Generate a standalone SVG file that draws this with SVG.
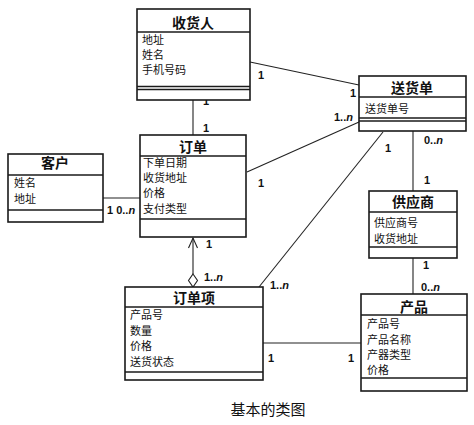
<svg xmlns="http://www.w3.org/2000/svg" width="474" height="425" viewBox="0 0 474 425">
<style>
.box{fill:#fff;stroke:#1a1a1a;stroke-width:1.6}
.div{stroke:#1a1a1a;stroke-width:1.4}
.ttl{font-family:"Noto Sans CJK SC","Noto Sans",sans-serif;font-weight:bold;font-size:14px;fill:#111;text-anchor:middle}
.att{font-family:"Noto Sans CJK SC","Noto Sans",sans-serif;font-size:11px;fill:#111}
.lbl{font-family:"Liberation Sans",Arial,sans-serif;font-weight:bold;font-size:11px;fill:#111}
.con{stroke:#222;stroke-width:1.1;fill:none}
.cap{font-family:"Noto Sans CJK SC",sans-serif;font-size:15px;fill:#111;text-anchor:middle}
</style>
<rect width="474" height="425" fill="#fff"/>
<g id="connectors">
<line class="con" x1="193" y1="100" x2="193" y2="135"/>
<line class="con" x1="250" y1="62" x2="359" y2="85"/>
<line class="con" x1="247" y1="172" x2="359" y2="122"/>
<line class="con" x1="383" y1="132" x2="259" y2="287"/>
<line class="con" x1="413" y1="131" x2="413" y2="191"/>
<line class="con" x1="413" y1="258" x2="413" y2="294"/>
<line class="con" x1="263" y1="343" x2="361" y2="343"/>
<line class="con" x1="103" y1="198" x2="140" y2="198"/>
<line class="con" x1="193" y1="238" x2="193" y2="274"/>
<polyline class="con" points="188.5,248 193,238 197.5,248"/>
<polygon points="193,274 197.5,280.5 193,287 188.5,280.5" fill="#fff" stroke="#222" stroke-width="1.1"/>
<text class="lbl" x="203" y="105">1</text>
<text class="lbl" x="203" y="132">1</text>
<text class="lbl" x="258" y="79">1</text>
<text class="lbl" x="350" y="97">1</text>
<text class="lbl" x="334" y="121">1..<tspan font-style="italic">n</tspan></text>
<text class="lbl" x="258" y="187">1</text>
<text class="lbl" x="385" y="152">1</text>
<text class="lbl" x="424" y="144">0..<tspan font-style="italic">n</tspan></text>
<text class="lbl" x="424" y="184">1</text>
<text class="lbl" x="423" y="269">1</text>
<text class="lbl" x="421" y="291">0..<tspan font-style="italic">n</tspan></text>
<text class="lbl" x="270" y="289">1..<tspan font-style="italic">n</tspan></text>
<text class="lbl" x="268" y="362">1</text>
<text class="lbl" x="348" y="362">1</text>
<text class="lbl" x="206" y="248">1</text>
<text class="lbl" x="204" y="281">1..<tspan font-style="italic">n</tspan></text>
<text class="lbl" x="107" y="214">1  0..<tspan font-style="italic">n</tspan></text>
</g>
<g id="consignee">
<rect class="box" x="137" y="9" width="113" height="91"/>
<line class="div" x1="137" y1="32" x2="250" y2="32"/>
<line class="div" x1="137" y1="86.5" x2="250" y2="86.5"/>
<line class="div" x1="137" y1="89.5" x2="250" y2="89.5"/>
<text class="ttl" x="193" y="28">收货人</text>
<text class="att" x="142" y="44">地址</text>
<text class="att" x="142" y="59">姓名</text>
<text class="att" x="142" y="74">手机号码</text>
</g>
<g id="shipment">
<rect class="box" x="359" y="76" width="107" height="55"/>
<line class="div" x1="359" y1="97" x2="466" y2="97"/>
<line class="div" x1="359" y1="118" x2="466" y2="118"/>
<line class="div" x1="359" y1="121" x2="466" y2="121"/>
<text class="ttl" x="412" y="93">送货单</text>
<text class="att" x="365" y="113">送货单号</text>
</g>
<g id="order">
<rect class="box" x="140" y="135" width="106" height="102"/>
<line class="div" x1="140" y1="156" x2="246" y2="156"/>
<line class="div" x1="140" y1="219" x2="246" y2="219"/>
<text class="ttl" x="193" y="152">订单</text>
<text class="att" x="143" y="167">下单日期</text>
<text class="att" x="143" y="182">收货地址</text>
<text class="att" x="143" y="197">价格</text>
<text class="att" x="143" y="213">支付类型</text>
</g>
<g id="customer">
<rect class="box" x="8" y="154" width="95" height="68"/>
<line class="div" x1="8" y1="175" x2="103" y2="175"/>
<line class="div" x1="8" y1="210" x2="103" y2="210"/>
<text class="ttl" x="55" y="168">客户</text>
<text class="att" x="14" y="187">姓名</text>
<text class="att" x="14" y="203">地址</text>
</g>
<g id="orderitem">
<rect class="box" x="125" y="287" width="138" height="93"/>
<line class="div" x1="125" y1="307" x2="263" y2="307"/>
<line class="div" x1="125" y1="372" x2="263" y2="372"/>
<text class="ttl" x="194" y="303">订单项</text>
<text class="att" x="130" y="319">产品号</text>
<text class="att" x="130" y="335">数量</text>
<text class="att" x="130" y="350">价格</text>
<text class="att" x="130" y="366">送货状态</text>
</g>
<g id="supplier">
<rect class="box" x="369" y="191" width="88" height="67"/>
<line class="div" x1="369" y1="212" x2="457" y2="212"/>
<line class="div" x1="369" y1="247" x2="457" y2="247"/>
<text class="ttl" x="413" y="207">供应商</text>
<text class="att" x="374" y="227">供应商号</text>
<text class="att" x="374" y="243">收货地址</text>
</g>
<g id="product">
<rect class="box" x="361" y="294" width="106" height="97"/>
<line class="div" x1="361" y1="315" x2="467" y2="315"/>
<line class="div" x1="361" y1="378" x2="467" y2="378"/>
<text class="ttl" x="414" y="312">产品</text>
<text class="att" x="367" y="328">产品号</text>
<text class="att" x="367" y="344">产品名称</text>
<text class="att" x="367" y="359">产器类型</text>
<text class="att" x="367" y="374">价格</text>
</g>
<text class="cap" x="268" y="415">基本的类图</text>
</svg>
